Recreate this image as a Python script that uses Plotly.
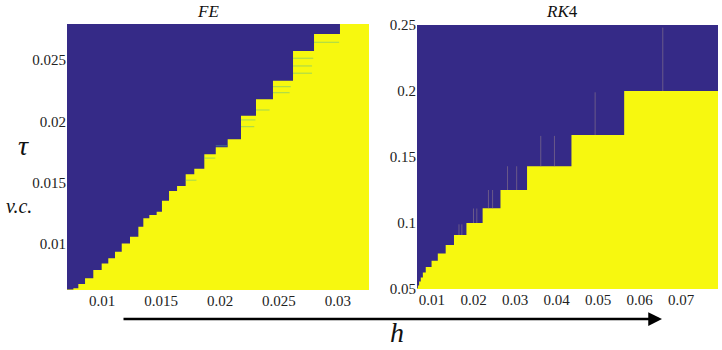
import plotly.graph_objects as go
from plotly.subplots import make_subplots

# ── Stability boundary ──────────────────────────────────────────
# FE: step start h and the tau level of the stable (yellow) region
fe_h = [0.0069, 0.00757, 0.00799, 0.00856, 0.00926, 0.00997, 0.01053, 0.01110,
        0.01167, 0.01237, 0.01308, 0.01350, 0.01401, 0.01463, 0.01508, 0.01568,
        0.01636, 0.01709, 0.01782, 0.01867, 0.01964, 0.02065, 0.02178, 0.02305,
        0.02449, 0.02619, 0.02797, 0.03017, 0.0340]
fe_tau = [0.00630, 0.00639, 0.00674, 0.00720, 0.00788, 0.00842, 0.00883, 0.00937,
          0.01005, 0.01059, 0.01141, 0.01209, 0.01236, 0.01263, 0.01353, 0.01432,
          0.01473, 0.01568, 0.01614, 0.01731, 0.01788, 0.01854, 0.02046, 0.02180,
          0.02331, 0.02573, 0.02712, 0.0290, 0.0290]

# faint horizontal streaks inside the FE steps
fe_streak_tau = [0.02644, 0.02514, 0.02451, 0.02392, 0.02282, 0.02233, 0.02092,
                 0.02011, 0.01956, 0.01800, 0.01700, 0.01520]
fe_streak_h0 = [0.02797, 0.02619, 0.02619, 0.02619, 0.02449, 0.02449, 0.02305,
                0.02178, 0.02178, 0.01964, 0.01867, 0.01709]
fe_streak_h1 = [0.03010, 0.02790, 0.02780, 0.02780, 0.02600, 0.02590, 0.02420,
                0.02300, 0.02290, 0.02060, 0.01960, 0.01800]

# RK4
rk_h = [0.0062, 0.0066, 0.0069, 0.0073, 0.0078, 0.0085, 0.0099, 0.0114, 0.0133,
        0.0153, 0.0183, 0.0222, 0.0265, 0.0329, 0.0436, 0.0563, 0.0800]
rk_tau = [0.0505, 0.0526, 0.0556, 0.0588, 0.0625, 0.0667, 0.0714, 0.0769, 0.0833,
          0.0909, 0.1000, 0.1111, 0.1250, 0.1429, 0.1667, 0.2000, 0.2000]

# faint vertical streaks above the RK4 steps
rk_streak_h = [0.0656, 0.0493, 0.0362, 0.0395, 0.0282, 0.0304, 0.0236, 0.0246,
               0.0200, 0.0208, 0.0165, 0.0172]
rk_streak_lo = [0.2000, 0.1667, 0.1429, 0.1429, 0.1250, 0.1250, 0.1111, 0.1111,
                0.1000, 0.1000, 0.0909, 0.0909]
rk_streak_hi = [0.2480, 0.1990, 0.1660, 0.1660, 0.1430, 0.1430, 0.1250, 0.1250,
                0.1110, 0.1110, 0.0990, 0.0990]

fe_xticks = [0.01, 0.015, 0.02, 0.025, 0.03]
fe_yticks = [0.01, 0.015, 0.02, 0.025]
rk_xticks = [0.01, 0.02, 0.03, 0.04, 0.05, 0.06, 0.07]
rk_yticks = [0.05, 0.1, 0.15, 0.2, 0.25]

BLUE = '#352a87'
YELLOW = '#f7f80f'
SERIF = 'Liberation Serif'
W, H = 722, 350

fig = make_subplots(rows=1, cols=2)

fig.add_trace(go.Scatter(
    x=fe_h, y=fe_tau, mode='lines', line=dict(width=0, shape='hv'),
    fill='tozeroy', fillcolor=YELLOW, hoverinfo='skip', showlegend=False
), row=1, col=1)

fx, fy = [], []
for t, h0, h1 in zip(fe_streak_tau, fe_streak_h0, fe_streak_h1):
    fx += [h0, h1, None]
    fy += [t, t, None]
fig.add_trace(go.Scatter(
    x=fx, y=fy, mode='lines', line=dict(width=1, color='rgba(90,185,140,0.55)'),
    hoverinfo='skip', showlegend=False
), row=1, col=1)

fig.add_trace(go.Scatter(
    x=rk_h, y=rk_tau, mode='lines', line=dict(width=0, shape='hv'),
    fill='tozeroy', fillcolor=YELLOW, hoverinfo='skip', showlegend=False
), row=1, col=2)

sx, sy = [], []
for h, lo, hi in zip(rk_streak_h, rk_streak_lo, rk_streak_hi):
    sx += [h, h, None]
    sy += [lo, hi, None]
fig.add_trace(go.Scatter(
    x=sx, y=sy, mode='lines', line=dict(width=1, color='rgba(150,130,140,0.55)'),
    hoverinfo='skip', showlegend=False
), row=1, col=2)

axis_common = dict(showgrid=False, zeroline=False, showline=False, ticks='',
                   automargin=False,
                   tickfont=dict(family=SERIF, size=15, color='#222'))

fig.update_xaxes(range=[0.00703, 0.03263], domain=[67 / W, 369 / W],
                 tickvals=fe_xticks, ticktext=[str(v) for v in fe_xticks],
                 **axis_common, row=1, col=1)
fig.update_yaxes(range=[0.00625, 0.02793], domain=[1 - 290 / H, 1 - 24 / H],
                 tickvals=fe_yticks, ticktext=[str(v) for v in fe_yticks],
                 **axis_common, row=1, col=1)
fig.update_xaxes(range=[0.00639, 0.0789], domain=[417 / W, 718 / W],
                 tickvals=rk_xticks, ticktext=[str(v) for v in rk_xticks],
                 **axis_common, row=1, col=2)
fig.update_yaxes(range=[0.05, 0.25], domain=[1 - 289 / H, 1 - 25 / H],
                 tickvals=rk_yticks, ticktext=[str(v) for v in rk_yticks],
                 **axis_common, row=1, col=2)

# ── Titles and labels ──────────────────────────────────────────
def label(text, x, y, size):
    fig.add_annotation(text=text, x=x / W, y=1 - y / H, xref='paper', yref='paper',
                       xanchor='center', yanchor='middle', showarrow=False,
                       font=dict(family=SERIF, size=size, color='#111'))

label('<i>FE</i>', 208, 11, 17)
label('<i>RK</i>4', 562, 11, 17)
label('<i>τ</i>', 23, 145, 28)
label('<i>v.c.</i>', 19, 206, 20)
label('<i>h</i>', 397, 332, 28)

# ── Arrow along h ─────────────────────────────────────────────
fig.add_annotation(x=662 / W, y=1 - 319 / H, ax=-(662 - 122), ay=0,
                   xref='paper', yref='paper', axref='pixel', ayref='pixel',
                   text='', showarrow=True, arrowhead=2, arrowsize=1.1,
                   arrowwidth=2.5, arrowcolor='#000')

fig.update_layout(
    width=W, height=H,
    margin=dict(l=0, r=0, t=0, b=0, autoexpand=False),
    font=dict(family=SERIF),
    paper_bgcolor='white',
    plot_bgcolor=BLUE,
    showlegend=False
)

fig.write_html("out.html", config={'displayModeBar': False},
               post_script="document.body.style.margin='0';")
